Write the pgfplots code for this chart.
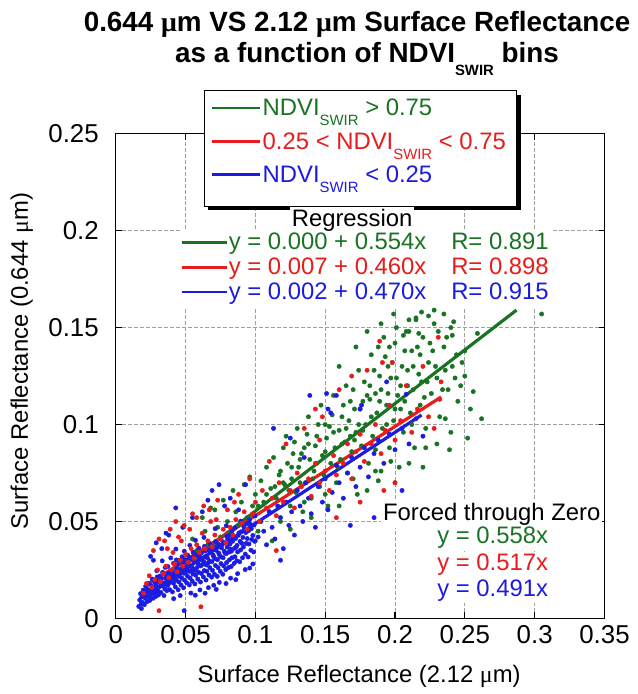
\documentclass[border=0pt]{standalone}
\usepackage{pgfplots}
\pgfplotsset{compat=1.18}
\usepackage{fontspec}
\setmainfont{Liberation Sans}
\newfontfamily\symf{Liberation Serif}
\definecolor{dgreen}{RGB}{25,115,35}
\definecolor{dred}{RGB}{232,28,28}
\definecolor{dblue}{RGB}{28,28,225}
\newcommand\mum{{\symf\char"03BC}m}
\newcommand\sub[2][5bp]{\raisebox{-#1}{\fontsize{7.5}{7.5}\selectfont #2}}
\newcommand\fs{\fontsize{12}{12}\selectfont}
\newcommand\fst{\fontsize{13}{13}\selectfont}
\pgfplotsset{dots/.style={only marks, color=#1, mark=*, mark size=1.1bp, mark options={line width=0.2bp, draw=#1, fill=#1}}}
\begin{document}
\begin{tikzpicture}
\begin{scope}[x=0.5bp,y=-0.5bp,shift={(-58bp,310bp)}]
\path[use as bounding box] (0,0) rectangle (631,694);
\end{scope}
\begin{axis}[
  at={(0,0)}, anchor=south west,
  scale only axis, width=245bp, height=243bp,
  xmin=0, xmax=0.35, ymin=0, ymax=0.25,
  xtick={0,0.05,0.1,0.15,0.2,0.25,0.3,0.35},
  xticklabels={0,0.05,0.1,0.15,0.2,0.25,0.3,0.35},
  ytick={0,0.05,0.1,0.15,0.2,0.25},
  yticklabels={0,0.05,0.1,0.15,0.2,0.25},
  grid=major,
  major grid style={gray!75, dash pattern=on 2bp off 1bp, line width=0.5bp},
  tick align=inside, major tick length=3bp,
  axis line style={line width=0.6bp},
  tick style={black, line width=0.6bp},
  ticklabel style={font=\fst},
  yticklabel style={xshift=-5bp},
  clip=false,
]
\addplot[dots=dgreen] coordinates {
(0.045,0.030)(0.050,0.028)(0.055,0.041)(0.058,0.035)(0.062,0.052)(0.064,0.045)(0.066,0.038)(0.068,0.057)(0.071,0.056)(0.073,0.047)(0.075,0.042)(0.077,0.061)(0.080,0.050)(0.082,0.044)(0.084,0.066)(0.086,0.055)(0.088,0.048)(0.090,0.060)(0.092,0.069)(0.094,0.052)(0.096,0.073)(0.098,0.058)(0.100,0.064)(0.102,0.045)(0.104,0.071)(0.106,0.060)(0.108,0.078)(0.110,0.055)(0.111,0.067)(0.113,0.083)(0.115,0.062)(0.117,0.074)(0.118,0.050)(0.120,0.088)(0.121,0.069)(0.123,0.080)(0.125,0.058)(0.126,0.072)(0.128,0.091)(0.129,0.065)(0.131,0.078)(0.133,0.085)(0.134,0.055)(0.136,0.070)(0.137,0.095)(0.139,0.082)(0.140,0.062)(0.142,0.076)(0.143,0.089)(0.145,0.100)(0.146,0.068)(0.148,0.084)(0.149,0.074)(0.151,0.093)(0.152,0.058)(0.154,0.080)(0.155,0.105)(0.157,0.088)(0.158,0.070)(0.160,0.097)(0.161,0.082)(0.163,0.110)(0.164,0.091)(0.166,0.075)(0.167,0.102)(0.169,0.086)(0.170,0.118)(0.172,0.096)(0.173,0.064)(0.175,0.108)(0.176,0.089)(0.178,0.122)(0.179,0.100)(0.181,0.080)(0.182,0.113)(0.184,0.094)(0.185,0.128)(0.187,0.106)(0.188,0.071)(0.190,0.118)(0.191,0.098)(0.193,0.135)(0.194,0.110)(0.196,0.088)(0.197,0.124)(0.199,0.102)(0.200,0.142)(0.202,0.115)(0.203,0.078)(0.205,0.130)(0.206,0.096)(0.208,0.148)(0.209,0.120)(0.211,0.106)(0.212,0.138)(0.214,0.088)(0.215,0.155)(0.217,0.126)(0.218,0.110)(0.220,0.145)(0.222,0.098)(0.224,0.132)(0.226,0.116)(0.228,0.152)(0.230,0.124)(0.232,0.104)(0.235,0.140)(0.238,0.118)(0.241,0.130)(0.245,0.112)(0.250,0.125)(0.256,0.117)(0.259,0.147)(0.305,0.157)
(0.118,0.076)(0.122,0.094)(0.124,0.066)(0.127,0.085)(0.130,0.098)(0.132,0.070)(0.135,0.088)(0.138,0.104)(0.141,0.072)(0.144,0.094)(0.147,0.110)(0.150,0.086)(0.153,0.099)(0.156,0.115)(0.159,0.078)(0.162,0.104)(0.165,0.120)(0.168,0.094)(0.171,0.108)(0.174,0.128)(0.177,0.097)(0.180,0.115)(0.183,0.136)(0.186,0.087)(0.189,0.125)(0.192,0.145)(0.195,0.116)(0.198,0.132)(0.201,0.150)(0.204,0.108)(0.207,0.138)(0.210,0.154)(0.213,0.118)(0.216,0.140)(0.219,0.158)(0.223,0.122)(0.227,0.138)(0.231,0.148)(0.236,0.128)(0.240,0.150)(0.244,0.136)
(0.140,0.052)(0.150,0.064)(0.160,0.058)(0.170,0.072)(0.180,0.066)(0.190,0.076)(0.200,0.070)(0.210,0.080)(0.220,0.078)(0.230,0.090)(0.240,0.096)(0.125,0.046)(0.135,0.060)(0.112,0.040)(0.100,0.040)
(0.224,0.156)(0.228,0.159)(0.235,0.157)(0.242,0.153)(0.215,0.154)(0.210,0.148)(0.217,0.147)(0.241,0.146)(0.250,0.138)(0.247,0.120)(0.254,0.108)(0.262,0.103)(0.236,0.103)(0.252,0.093)(0.222,0.088)(0.239,0.087)(0.186,0.076)(0.197,0.081)
(0.165,0.098)(0.171,0.092)(0.177,0.112)(0.183,0.104)(0.189,0.112)(0.195,0.130)(0.201,0.124)(0.207,0.112)(0.213,0.130)(0.219,0.122)(0.225,0.142)(0.182,0.120)(0.188,0.140)(0.194,0.100)(0.200,0.108)(0.206,0.146)(0.212,0.100)(0.218,0.136)(0.196,0.140)(0.204,0.120)(0.186,0.116)(0.174,0.100)(0.168,0.112)(0.162,0.090)(0.156,0.096)(0.150,0.100)(0.144,0.080)(0.138,0.090)(0.132,0.082)(0.126,0.078)(0.120,0.070)(0.114,0.068)(0.108,0.064)(0.102,0.058)(0.160,0.130)(0.172,0.140)(0.180,0.148)(0.190,0.152)(0.199,0.157)(0.209,0.128)(0.221,0.114)(0.229,0.130)(0.234,0.118)(0.237,0.145)(0.243,0.124)(0.248,0.132)
};
\addplot[dots=dblue] coordinates {
(0.0165,0.0062)(0.0172,0.0095)(0.0178,0.0128)(0.0184,0.0051)(0.0191,0.0083)(0.0188,0.0112)(0.0197,0.0146)(0.0205,0.0071)(0.0212,0.0104)(0.0209,0.0133)(0.0218,0.0162)(0.0226,0.0087)(0.0233,0.0116)(0.0229,0.0149)(0.0237,0.0181)(0.0244,0.0093)(0.0252,0.0124)(0.0248,0.0141)(0.0257,0.0168)(0.0261,0.0203)(0.0268,0.0104)(0.0274,0.0129)(0.0271,0.0157)(0.0279,0.0188)(0.0286,0.0113)(0.0293,0.0138)(0.0289,0.0177)(0.0297,0.0214)(0.0294,0.0246)(0.0306,0.0121)(0.0312,0.0163)(0.0309,0.0192)(0.0318,0.0219)(0.0324,0.0134)(0.0331,0.0168)(0.0328,0.0204)(0.0336,0.0238)(0.0333,0.0297)(0.0346,0.0118)(0.0352,0.0152)(0.0349,0.0183)(0.0357,0.0209)(0.0354,0.0263)(0.0366,0.0143)(0.0372,0.0171)(0.0368,0.0198)(0.0377,0.0232)(0.0374,0.0268)(0.0386,0.0149)(0.0392,0.0193)(0.0389,0.0224)(0.0397,0.0247)(0.0394,0.0312)(0.0406,0.0137)(0.0413,0.0182)(0.0409,0.0213)(0.0418,0.0241)(0.0414,0.0284)(0.0427,0.0163)(0.0433,0.0197)(0.0429,0.0228)(0.0438,0.0259)(0.0434,0.0302)(0.0431,0.0358)(0.0447,0.0148)(0.0453,0.0188)(0.0449,0.0217)(0.0457,0.0253)(0.0452,0.0291)(0.0468,0.0172)(0.0474,0.0208)(0.0471,0.0238)(0.0478,0.0271)(0.0475,0.0318)(0.0486,0.0158)(0.0493,0.0197)(0.0489,0.0233)(0.0497,0.0262)(0.0494,0.0304)(0.0491,0.0347)(0.0508,0.0184)(0.0514,0.0218)(0.0511,0.0252)(0.0518,0.0283)(0.0515,0.0327)(0.0527,0.0173)(0.0533,0.0208)(0.0529,0.0243)(0.0537,0.0268)(0.0534,0.0314)(0.0531,0.0377)(0.0548,0.0192)(0.0553,0.0229)(0.0549,0.0261)(0.0557,0.0298)(0.0554,0.0342)(0.0567,0.0178)(0.0573,0.0223)(0.0569,0.0248)(0.0577,0.0293)(0.0574,0.0327)(0.0571,0.0403)(0.0588,0.0203)(0.0594,0.0238)(0.0591,0.0282)(0.0598,0.0309)(0.0595,0.0363)(0.0607,0.0188)(0.0613,0.0232)(0.0609,0.0271)(0.0617,0.0302)(0.0614,0.0338)(0.0628,0.0214)(0.0634,0.0247)(0.0631,0.0293)(0.0638,0.0318)(0.0635,0.0372)(0.0632,0.0418)(0.0647,0.0198)(0.0653,0.0243)(0.0649,0.0276)(0.0657,0.0312)(0.0654,0.0353)(0.0668,0.0224)(0.0674,0.0262)(0.0671,0.0297)(0.0678,0.0343)(0.0675,0.0386)(0.0687,0.0213)(0.0693,0.0248)(0.0689,0.0293)(0.0697,0.0327)(0.0694,0.0372)(0.0708,0.0228)(0.0714,0.0273)(0.0711,0.0308)(0.0718,0.0352)(0.0715,0.0397)(0.0712,0.0463)(0.0727,0.0217)(0.0733,0.0262)(0.0729,0.0303)(0.0737,0.0338)(0.0734,0.0384)(0.0748,0.0243)(0.0754,0.0283)(0.0751,0.0318)(0.0758,0.0364)(0.0755,0.0407)(0.0767,0.0228)(0.0773,0.0271)(0.0769,0.0313)(0.0777,0.0347)(0.0774,0.0392)(0.0788,0.0252)(0.0794,0.0288)(0.0791,0.0334)(0.0798,0.0368)(0.0795,0.0423)(0.0792,0.0478)(0.0808,0.0263)(0.0814,0.0302)(0.0811,0.0342)(0.0818,0.0384)(0.0815,0.0428)(0.0827,0.0268)(0.0833,0.0313)(0.0829,0.0347)(0.0837,0.0398)(0.0834,0.0452)(0.0848,0.0284)(0.0854,0.0318)(0.0851,0.0362)(0.0858,0.0412)(0.0855,0.0467)(0.0867,0.0297)(0.0873,0.0343)(0.0869,0.0377)(0.0877,0.0428)(0.0888,0.0292)(0.0894,0.0353)(0.0891,0.0398)(0.0898,0.0447)(0.0895,0.0502)(0.0908,0.0313)(0.0914,0.0368)(0.0911,0.0418)(0.0918,0.0472)(0.0928,0.0332)(0.0934,0.0387)(0.0931,0.0443)(0.0938,0.0488)(0.0948,0.0317)(0.0954,0.0384)(0.0951,0.0452)(0.0958,0.0508)(0.0968,0.0352)(0.0974,0.0407)(0.0971,0.0463)(0.0988,0.0343)(0.0994,0.0398)(0.0991,0.0482)(0.0997,0.0528)
(0.0182,0.0075)(0.0201,0.0118)(0.0221,0.0139)(0.0242,0.0111)(0.0263,0.0149)(0.0283,0.0163)(0.0302,0.0142)(0.0321,0.0186)(0.0342,0.0171)(0.0362,0.0224)(0.0381,0.0181)(0.0401,0.0227)(0.0422,0.0204)(0.0441,0.0274)(0.0462,0.0231)(0.0482,0.0286)(0.0502,0.0239)(0.0522,0.0306)(0.0542,0.0247)(0.0562,0.0318)(0.0582,0.0262)(0.0602,0.0324)(0.0622,0.0279)(0.0642,0.0348)(0.0662,0.0286)(0.0682,0.0362)(0.0702,0.0318)(0.0722,0.0372)(0.0742,0.0328)(0.0762,0.0382)(0.0782,0.0338)(0.0802,0.0408)(0.0822,0.0358)(0.0842,0.0422)(0.0862,0.0368)(0.0882,0.0441)(0.0902,0.0388)(0.0922,0.0462)(0.0942,0.0412)(0.0962,0.0488)(0.0982,0.0428)
(0.0415,0.0102)(0.0462,0.0118)(0.0538,0.0131)(0.0603,0.0147)(0.0664,0.0159)(0.0702,0.0171)(0.0742,0.0186)(0.0823,0.0208)(0.0873,0.0231)(0.0927,0.0252)(0.0982,0.0281)
(0.025,0.032)(0.027,0.030)(0.029,0.039)(0.033,0.036)(0.036,0.044)(0.038,0.043)(0.043,0.057)(0.048,0.047)(0.055,0.052)(0.062,0.055)(0.066,0.061)(0.069,0.066)(0.074,0.069)(0.078,0.058)(0.082,0.062)(0.093,0.069)(0.088,0.056)
(0.049,0.004)(0.057,0.012)(0.064,0.013)(0.072,0.015)(0.079,0.018)(0.086,0.020)
(0.102,0.042)(0.104,0.050)(0.106,0.045)(0.108,0.038)(0.110,0.055)(0.112,0.047)(0.114,0.041)(0.116,0.058)(0.118,0.052)(0.120,0.036)(0.122,0.060)(0.124,0.048)(0.126,0.055)(0.128,0.043)(0.130,0.066)(0.132,0.058)(0.134,0.050)(0.136,0.070)(0.138,0.062)(0.140,0.054)(0.143,0.047)(0.145,0.068)(0.148,0.060)(0.150,0.072)(0.152,0.056)(0.155,0.065)(0.158,0.079)(0.160,0.070)(0.163,0.062)(0.166,0.075)(0.169,0.083)(0.172,0.068)(0.175,0.078)(0.178,0.088)(0.181,0.073)(0.185,0.085)(0.188,0.092)(0.192,0.080)(0.196,0.095)(0.200,0.087)(0.205,0.098)(0.210,0.090)(0.215,0.103)(0.220,0.094)
(0.113,0.098)(0.125,0.093)(0.158,0.115)(0.175,0.108)(0.152,0.108)(0.135,0.083)(0.168,0.048)(0.185,0.052)(0.205,0.066)(0.118,0.030)(0.096,0.026)(0.139,0.115)(0.151,0.116)(0.154,0.106)(0.194,0.122)(0.176,0.110)(0.208,0.1156)
};
\addplot[dots=dred] coordinates {
(0.020,0.013)(0.022,0.018)(0.024,0.022)(0.026,0.016)(0.028,0.020)(0.031,0.004)(0.030,0.025)(0.032,0.019)(0.034,0.023)(0.035,0.040)(0.036,0.027)(0.038,0.021)(0.039,0.046)(0.040,0.025)(0.041,0.034)(0.042,0.028)(0.044,0.024)(0.045,0.042)(0.046,0.030)(0.048,0.027)(0.049,0.048)(0.050,0.033)(0.052,0.029)(0.054,0.036)(0.055,0.054)(0.056,0.031)(0.058,0.038)(0.060,0.034)(0.061,0.006)(0.062,0.044)(0.063,0.058)(0.064,0.036)(0.066,0.040)(0.068,0.050)(0.069,0.037)(0.071,0.043)(0.073,0.061)(0.075,0.041)(0.077,0.046)(0.079,0.039)(0.080,0.056)(0.082,0.047)(0.084,0.043)(0.086,0.051)(0.088,0.064)(0.090,0.049)(0.092,0.055)(0.094,0.046)(0.096,0.072)(0.098,0.054)(0.100,0.060)(0.103,0.050)(0.105,0.066)(0.108,0.057)(0.110,0.081)(0.112,0.062)(0.115,0.053)(0.117,0.070)(0.120,0.060)(0.122,0.090)(0.125,0.066)(0.128,0.057)(0.130,0.075)(0.133,0.068)(0.135,0.098)(0.138,0.072)(0.140,0.063)(0.143,0.080)(0.146,0.070)(0.148,0.104)(0.150,0.076)(0.153,0.066)(0.156,0.084)(0.158,0.074)(0.160,0.118)(0.163,0.080)(0.166,0.090)(0.169,0.072)(0.172,0.086)(0.175,0.095)(0.178,0.081)(0.180,0.128)(0.183,0.090)(0.186,0.100)(0.190,0.085)(0.193,0.097)(0.196,0.110)(0.200,0.092)(0.204,0.102)(0.208,0.120)(0.212,0.096)(0.216,0.108)(0.220,0.130)(0.224,0.104)(0.228,0.098)(0.232,0.113)
(0.189,0.143)(0.191,0.132)(0.169,0.125)(0.143,0.108)(0.198,0.132)(0.231,0.145)(0.233,0.122)(0.158,0.052)(0.175,0.060)(0.192,0.066)(0.146,0.092)(0.115,0.035)(0.200,0.070)
(0.027,0.035)(0.031,0.041)(0.037,0.036)(0.043,0.050)(0.047,0.040)(0.053,0.046)(0.058,0.052)(0.067,0.056)(0.072,0.051)(0.085,0.060)
};
% regression lines
\addplot[dgreen, line width=1.6bp] coordinates {(0.045,0.0249)(0.287,0.1590)};
\addplot[dred, line width=1.6bp] coordinates {(0.020,0.0162)(0.233,0.1142)};
\addplot[dblue, line width=1.6bp] coordinates {(0.017,0.0100)(0.219,0.1049)};
\end{axis}
\begin{scope}[x=0.5bp,y=-0.5bp,shift={(-58bp,310bp)}]
% titles
\node[anchor=base, font=\bfseries\fontsize{14}{14}\selectfont] at (358,32) {0.644 \mum\ VS 2.12 \mum\ Surface Reflectance};
\node[anchor=base, font=\bfseries\fontsize{14}{14}\selectfont] at (368,63) {as a function of NDVI\sub[6.5bp]{SWIR} bins};
% axis labels
\node[anchor=base, font=\fs] at (360,684) {Surface Reflectance (2.12 \mum)};
\node[anchor=base, rotate=90, font=\fs] at (28,362) {Surface Reflectance (0.644 \mum)};
% legend box
\fill[black] (209,95) rectangle (522,211);
\draw[fill=white, line width=0.6bp] (205,91) rectangle (518,207);
\draw[dgreen, line width=1.2bp] (213,108) -- (261,108);
\draw[dred, line width=1.2bp] (213,142) -- (261,142);
\draw[dblue, line width=1.2bp] (213,175) -- (261,175);
\node[anchor=base west, inner sep=0, text=dgreen, font=\fs] at (263,116) {NDVI\sub{SWIR} > 0.75};
\node[anchor=base west, inner sep=0, text=dred, font=\fs] at (263,150) {0.25 < NDVI\sub{SWIR} < 0.75};
\node[anchor=base west, inner sep=0, text=dblue, font=\fs] at (263,183) {NDVI\sub{SWIR} < 0.25};
% regression block
\fill[white] (180,231) rectangle (552,308);
\node[anchor=base, fill=white, inner sep=1bp, font=\fs] at (353,227) {Regression};
\draw[dgreen, line width=1.2bp] (182,243) -- (228,243);
\draw[dred, line width=1.2bp] (182,268) -- (228,268);
\draw[dblue, line width=1.2bp] (182,293) -- (228,293);
\node[anchor=base west, inner sep=0, text=dgreen, font=\fs] at (229,250) {y = 0.000 + 0.554x};
\node[anchor=base west, inner sep=0, text=dred, font=\fs] at (229,275) {y = 0.007 + 0.460x};
\node[anchor=base west, inner sep=0, text=dblue, font=\fs] at (229,300) {y = 0.002 + 0.470x};
\node[anchor=base west, inner sep=0, text=dgreen, font=\fs] at (452,250) {R= 0.891};
\node[anchor=base west, inner sep=0, text=dred, font=\fs] at (452,275) {R= 0.898};
\node[anchor=base west, inner sep=0, text=dblue, font=\fs] at (452,300) {R= 0.915};
% forced through zero
\node[anchor=base, fill=white, inner sep=1bp, font=\fs] at (493,522) {Forced through Zero};
\node[anchor=base, fill=white, inner sep=1bp, text=dgreen, font=\fs] at (494,545) {y = 0.558x};
\node[anchor=base, fill=white, inner sep=1bp, text=dred, font=\fs] at (494,572) {y = 0.517x};
\node[anchor=base, fill=white, inner sep=1bp, text=dblue, font=\fs] at (494,598) {y = 0.491x};
\end{scope}
\end{tikzpicture}
\end{document}
